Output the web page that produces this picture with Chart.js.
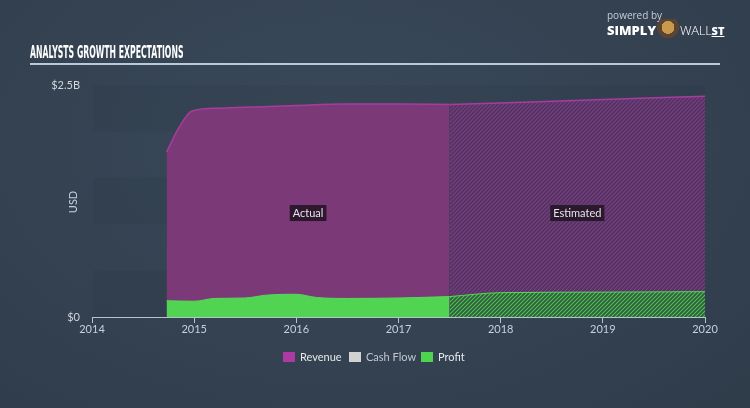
<!DOCTYPE html>
<html><head><meta charset="utf-8">
<script src="https://cdn.jsdelivr.net/npm/chart.js@4/dist/chart.umd.min.js"></script>
<style>
html,body{margin:0;padding:0;width:750px;height:408px;overflow:hidden;background:#344252;}
#wrap{position:relative;width:750px;height:408px;background:radial-gradient(ellipse at 45% 35%, #3a4959 0%, #334151 60%, #2f3c4a 100%);}
#c{position:absolute;left:0;top:0;}
.title{position:absolute;left:30px;top:42px;font-family:"DejaVu Sans","Liberation Sans",sans-serif;font-weight:bold;font-size:17px;color:#fff;white-space:nowrap;transform:scaleX(0.455);transform-origin:0 0;}
.rule{position:absolute;left:30px;top:63px;width:690px;height:2px;background:#b9c9d6;}
.pw{position:absolute;left:607px;top:8px;font-family:"Open Sans",sans-serif;font-size:10px;color:#c7ced6;}
.logo{position:absolute;left:607px;top:19px;font-family:"Open Sans",sans-serif;font-size:13px;color:#fff;white-space:nowrap;}
.logo b{font-weight:800;}
.bull{display:inline-block;width:22px;height:22px;vertical-align:-6px;margin:0 1px;background:radial-gradient(circle at 50% 38%, #c99a4e 0 36%, #5c4432 37% 62%, transparent 63%);}
.wall{font-weight:300;letter-spacing:-0.3px;}
.legend{position:absolute;top:350px;left:0;width:750px;font-family:Lato,"Open Sans",sans-serif;font-size:11px;color:#e6e9ec;}
.li{position:absolute;top:0;white-space:nowrap;}
.li i{display:inline-block;width:12px;height:10px;vertical-align:-1px;margin-right:5px;}
</style></head>
<body><div id="wrap">
<canvas id="c" width="750" height="408"></canvas>
<div class="title">ANALYSTS GROWTH EXPECTATIONS</div>
<div class="rule"></div>
<div class="pw">powered by</div>
<div class="logo"><b>SIMPLY</b><span class="bull"></span><span class="wall">WALL</span><b style="text-decoration:underline;font-size:11px">ST</b></div>
<div class="legend">
<span class="li" style="left:283px"><i style="background:#ad3aa2"></i>Revenue</span>
<span class="li" style="left:349px;color:#c2c8cf"><i style="background:#d2d2d2"></i>Cash Flow</span>
<span class="li" style="left:421px"><i style="background:#4fd44f"></i>Profit</span>
</div>
</div>
<script>
// ---- data ----
const revenueActualYears = [2014.73, 2014.85, 2014.98, 2015.25, 2015.5, 2016.0, 2016.5, 2017.0, 2017.5];
const revenueActual      = [1.778e9, 2.04e9, 2.22e9, 2.25e9, 2.26e9, 2.28e9, 2.295e9, 2.295e9, 2.29e9];
const revenueEstYears    = [2017.5, 2018, 2019, 2020];
const revenueEst         = [2.29e9, 2.306e9, 2.344e9, 2.38e9];
const profitActualYears  = [2014.73, 2015.0, 2015.2, 2015.5, 2015.7, 2016.0, 2016.2, 2016.5, 2017.0, 2017.5];
const profitActual       = [0.175e9, 0.17e9, 0.20e9, 0.205e9, 0.235e9, 0.245e9, 0.21e9, 0.20e9, 0.205e9, 0.22e9];
const profitEstYears     = [2017.5, 2018, 2019, 2020];
const profitEst          = [0.22e9, 0.262e9, 0.268e9, 0.273e9];
const xTickYears = [2014, 2015, 2016, 2017, 2018, 2019, 2020];
const yTickLabels = {0: '$0', 2500000000: '$2.5B'};
const actualLabel = 'Actual', estimatedLabel = 'Estimated';

const pts = (xs, ys) => xs.map((x, i) => ({x, y: ys[i]}));

function hatch(base, line) {
  const c = document.createElement('canvas'); c.width = 4; c.height = 4;
  const g = c.getContext('2d');
  g.fillStyle = base; g.fillRect(0, 0, 4, 4);
  g.strokeStyle = line; g.lineWidth = 1.1;
  g.beginPath();
  g.moveTo(0, 4); g.lineTo(4, 0);
  g.moveTo(-1, 1); g.lineTo(1, -1);
  g.moveTo(3, 5); g.lineTo(5, 3);
  g.stroke();
  return g.createPattern(c, 'repeat');
}

const bandsPlugin = {
  id: 'bands',
  beforeDatasetsDraw(chart) {
    const {ctx, chartArea: a, scales: {y}} = chart;
    ctx.save();
    ctx.fillStyle = 'rgba(0,0,0,0.045)';
    [0, 1e9, 2e9].forEach(v => {
      const t = y.getPixelForValue(v + 0.5e9), b = y.getPixelForValue(v);
      ctx.fillRect(a.left + 1, t, a.right - a.left - 1, b - t);
    });
    ctx.restore();
  },
  afterDatasetsDraw(chart) {
    const {ctx, scales: {x, y}} = chart;
    ctx.save();
    ctx.font = '11px Lato, "Open Sans", sans-serif';
    ctx.textAlign = 'center'; ctx.textBaseline = 'middle';
    const box = (txt, xv, yv) => {
      const px = x.getPixelForValue(xv), py = y.getPixelForValue(yv);
      const w = ctx.measureText(txt).width + 6;
      ctx.fillStyle = 'rgba(38,22,40,0.92)';
      ctx.fillRect(px - w / 2, py - 8, w, 16);
      ctx.fillStyle = '#e8e2ea';
      ctx.fillText(txt, px, py + 0.5);
    };
    box(actualLabel, (revenueActualYears[0] + 2017.5) / 2, 1.12e9);
    box(estimatedLabel, (2017.5 + 2020) / 2, 1.12e9);
    ctx.translate(73, 202); ctx.rotate(-Math.PI / 2);
    ctx.fillStyle = '#c8d0d8';
    ctx.fillText('USD', 0, 0);
    ctx.restore();
  }
};

const ctx = document.getElementById('c').getContext('2d');
new Chart(ctx, {
  type: 'line',
  data: {
    datasets: [
      {label: 'Profit', data: pts(profitActualYears, profitActual), order: 0,
       borderColor: '#57d957', borderWidth: 1, backgroundColor: '#51d451', fill: 'origin',
       pointRadius: 0, cubicInterpolationMode: 'monotone'},
      {label: 'Profit est', data: pts(profitEstYears, profitEst), order: 1,
       borderColor: '#57d957', borderWidth: 1, backgroundColor: hatch('#2f5b3f', '#52c452'), fill: 'origin',
       pointRadius: 0, cubicInterpolationMode: 'monotone'},
      {label: 'Revenue', data: pts(revenueActualYears, revenueActual), order: 2,
       borderColor: '#a83c9e', borderWidth: 1.5, backgroundColor: '#7b3978', fill: 'origin',
       pointRadius: 0, cubicInterpolationMode: 'monotone'},
      {label: 'Revenue est', data: pts(revenueEstYears, revenueEst), order: 3,
       borderColor: '#a83c9e', borderWidth: 1.5, backgroundColor: hatch('#563264', '#77437f'), fill: 'origin',
       pointRadius: 0, cubicInterpolationMode: 'monotone'}
    ]
  },
  options: {
    responsive: false, animation: false,
    layout: {padding: {left: 0, top: 85, right: 45, bottom: 61}},
    plugins: {legend: {display: false}, tooltip: {enabled: false}},
    scales: {
      x: {
        type: 'linear', min: 2014, max: 2020,
        afterBuildTicks: s => { s.ticks = xTickYears.map(v => ({value: v})); },
        afterFit: s => { s.height = 30; },
        ticks: {color: '#c8d0d8', font: {size: 11, family: 'Lato, "Open Sans", sans-serif'}, padding: 0,
                maxRotation: 0, callback: v => String(v)},
        grid: {drawOnChartArea: false, drawTicks: true, tickLength: 6, color: '#b7c3cf'},
        border: {display: true, color: '#b7c3cf', width: 1}
      },
      y: {
        min: 0, max: 2.5e9,
        afterBuildTicks: s => { s.ticks = Object.keys(yTickLabels).map(v => ({value: +v})); },
        afterFit: s => { s.width = 92; },
        ticks: {color: '#d0d6dc', font: {size: 11, family: 'Lato, "Open Sans", sans-serif'}, padding: 12,
                callback: v => yTickLabels[v] ?? ''},
        grid: {display: false, drawTicks: false},
        border: {display: false}
      }
    }
  },
  plugins: [bandsPlugin]
});
</script>
</body></html>
